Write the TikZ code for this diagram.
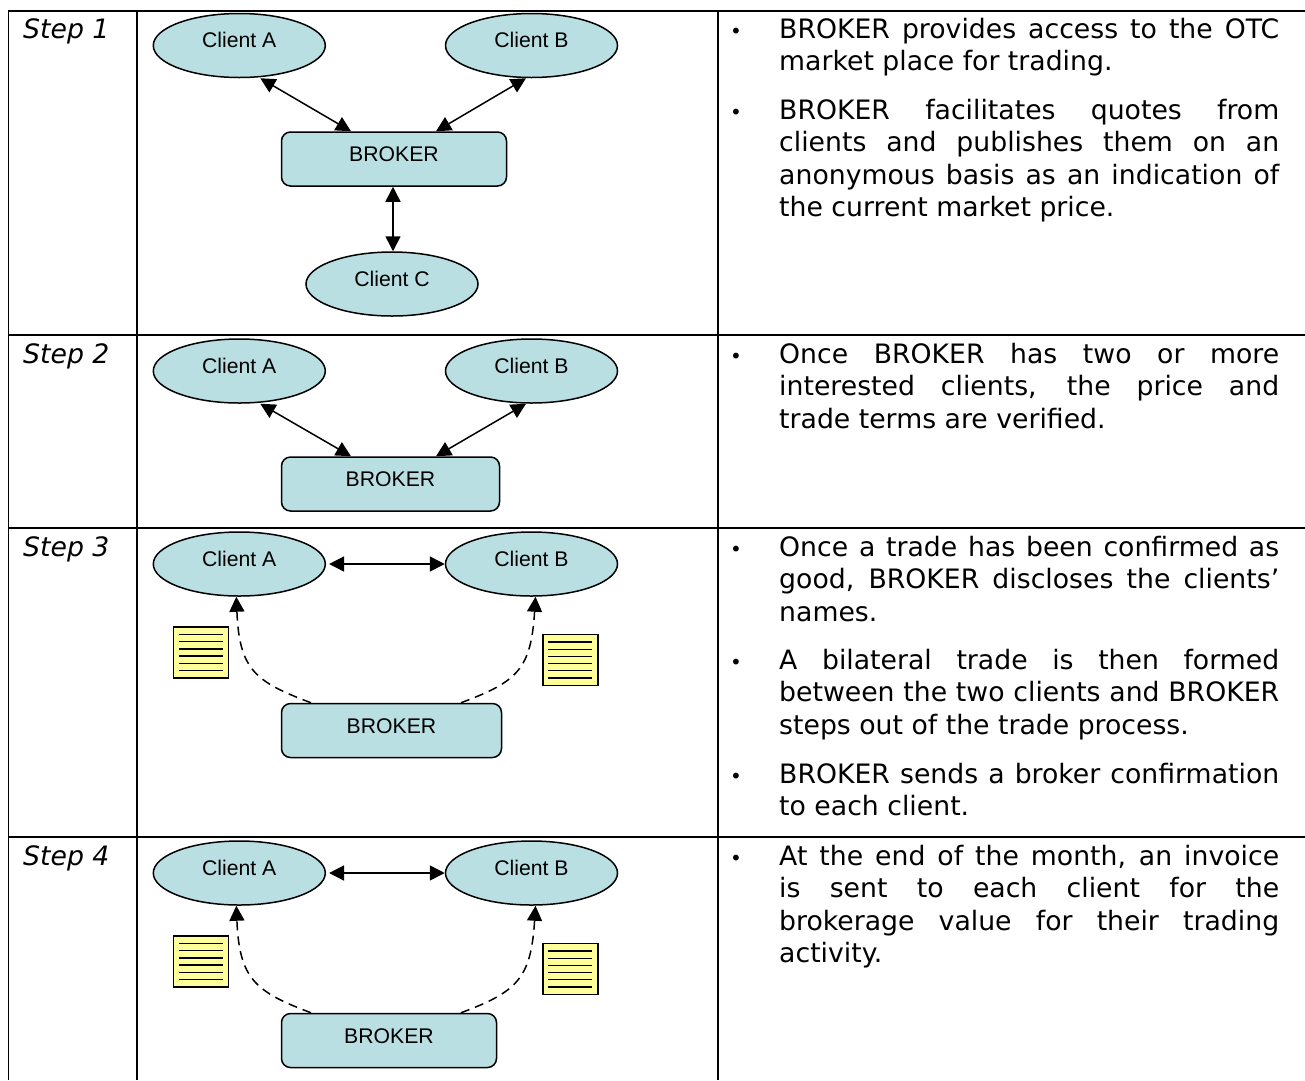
\documentclass[tikz,border=0pt]{standalone}
\usepackage{fontspec}
\setmainfont{DejaVu Sans}
\newfontfamily\labelfont{Liberation Sans}
\usetikzlibrary{arrows.meta,shapes.geometric}
\definecolor{partyblue}{HTML}{B9DFE3}
\definecolor{noteyellow}{HTML}{FFFF99}
\newcommand{\jline}[1]{\makebox[500pt][s]{#1}}
\tikzset{
    party/.style={ellipse, draw, line width=1.5pt, fill=partyblue, minimum width=172pt, minimum height=64pt, inner sep=0pt, font=\labelfont\fontsize{21.2}{24}\selectfont, text height=13pt, text depth=9pt},
    brokerbox/.style={rectangle, rounded corners=9pt, draw, line width=1.5pt, fill=partyblue, minimum height=54pt, inner sep=0pt, font=\labelfont\fontsize{21.2}{24}\selectfont, text height=13.5pt, text depth=8pt},
    notesheet/.style={rectangle, draw, line width=1.5pt, fill=noteyellow, minimum width=55pt, minimum height=51pt, inner sep=0pt,
        path picture={\foreach \k in {-18,-10.8,-3.6,3.6,10.8,18} \draw[line width=1.3pt] ([xshift=-22pt,yshift=\k pt]path picture bounding box.center) -- ++(44,0);}},
    link/.style={line width=1.5pt, {Triangle[length=15pt,width=15pt]}-{Triangle[length=15pt,width=15pt]}},
    dashlink/.style={line width=1.5pt, dash pattern=on 9pt off 6pt, -{Triangle[length=15pt,width=15pt]}},
    gridline/.style={line width=1.7pt},
    steplabel/.style={anchor=base west, inner sep=0pt, font=\fontsize{26.7}{32.4}\selectfont\itshape},
    bodytext/.style={anchor=north west, inner sep=0pt, yshift=22.68pt, align=left, font=\fontsize{26.7}{32.4}\selectfont},
    bulletmark/.style={anchor=base west, inner sep=0pt, font=\fontsize{20}{24}\selectfont},
}
\begin{document}
\begin{tikzpicture}[x=1pt, y=-1pt]
    \useasboundingbox (0,0) rectangle (1305,1080);

    % table rules
    \draw[gridline] (8.5,1080) -- (8.5,11) -- (1305,11);
    \draw[gridline] (137,11) -- (137,1080);
    \draw[gridline] (718,11) -- (718,1080);
    \draw[gridline] (8.5,335) -- (1305,335);
    \draw[gridline] (8.5,528) -- (1305,528);
    \draw[gridline] (8.5,837) -- (1305,837);

    \node[steplabel] (step1) at (23,38) {Step 1};
    \node[steplabel] (step2) at (23,363) {Step 2};
    \node[steplabel] (step3) at (23,556) {Step 3};
    \node[steplabel] (step4) at (23,865) {Step 4};

    % step 1
    \node[party] (clienta1) at (239.3,45.5) {Client A};
    \node[party] (clientb1) at (531.5,45.5) {Client B};
    \node[brokerbox, minimum width=225pt] (broker1) at (394,159) {BROKER};
    \node[party] (clientc1) at (392,284) {Client C};
    \draw[link] ([xshift=21pt]clienta1.south) -- ([xshift=-43pt]broker1.north);
    \draw[link] ([xshift=-5.5pt]clientb1.south) -- ([xshift=42pt]broker1.north);
    \draw[link] ([xshift=-1pt]broker1.south) -- ([xshift=1pt]clientc1.north);

    % step 2
    \node[party] (clienta2) at (239.3,371) {Client A};
    \node[party] (clientb2) at (531.5,371) {Client B};
    \node[brokerbox, minimum width=218pt] (broker2) at (390.5,484) {BROKER};
    \draw[link] ([xshift=21pt]clienta2.south) -- ([xshift=-39.5pt]broker2.north);
    \draw[link] ([xshift=-5.5pt]clientb2.south) -- ([xshift=45.5pt]broker2.north);

    % step 3
    \node[party] (clienta3) at (239.3,564) {Client A};
    \node[party] (clientb3) at (531.5,564) {Client B};
    \node[brokerbox, minimum width=220pt] (broker3) at (391.5,730.5) {BROKER};
    \node[notesheet] (notea3) at (201.2,652.5) {};
    \node[notesheet] (noteb3) at (570.3,660) {};
    \draw[link] ([xshift=3pt]clienta3.east) -- (clientb3.west);
    \draw[dashlink] ([xshift=-80.5pt]broker3.north) .. controls +(-56,-21) and +(3,73) .. ([xshift=-3pt]clienta3.south);
    \draw[dashlink] ([xshift=69.5pt]broker3.north) .. controls +(56,-21) and +(-4.5,73) .. ([xshift=4pt]clientb3.south);

    % step 4
    \node[party] (clienta4) at (239.3,873) {Client A};
    \node[party] (clientb4) at (531.5,873) {Client B};
    \node[brokerbox, minimum width=215pt] (broker4) at (389,1040.5) {BROKER};
    \node[notesheet] (notea4) at (201.2,961.5) {};
    \node[notesheet] (noteb4) at (570.3,969) {};
    \draw[link] ([xshift=3pt]clienta4.east) -- (clientb4.west);
    \draw[dashlink] ([xshift=-78pt]broker4.north) .. controls +(-56,-21) and +(3,73) .. ([xshift=-3pt]clienta4.south);
    \draw[dashlink] ([xshift=72pt]broker4.north) .. controls +(56,-21) and +(-4.5,73) .. ([xshift=4pt]clientb4.south);

    % right column
    \node[bulletmark] (mark1) at (730,38) {•};
    \node[bodytext] (text1) at (779,38) {\strut\jline{BROKER provides access to the OTC}\\market place for trading.};
    \node[bulletmark] (mark2) at (730,119) {•};
    \node[bodytext] (text2) at (779,119) {\strut\jline{BROKER facilitates quotes from}\\\jline{clients and publishes them on an}\\\jline{anonymous basis as an indication of}\\the current market price.};
    \node[bulletmark] (mark3) at (730,363) {•};
    \node[bodytext] (text3) at (779,363) {\strut\jline{Once BROKER has two or more}\\\jline{interested clients, the price and}\\trade terms are verified.};
    \node[bulletmark] (mark4) at (730,556) {•};
    \node[bodytext] (text4) at (779,556) {\strut\jline{Once a trade has been confirmed as}\\\jline{good, BROKER discloses the clients’}\\names.};
    \node[bulletmark] (mark5) at (730,669) {•};
    \node[bodytext] (text5) at (779,669) {\strut\jline{A bilateral trade is then formed}\\\jline{between the two clients and BROKER}\\steps out of the trade process.};
    \node[bulletmark] (mark6) at (730,783) {•};
    \node[bodytext] (text6) at (779,783) {\strut\jline{BROKER sends a broker confirmation}\\to each client.};
    \node[bulletmark] (mark7) at (730,865) {•};
    \node[bodytext] (text7) at (779,865) {\strut\jline{At the end of the month, an invoice}\\\jline{is sent to each client for the}\\\jline{brokerage value for their trading}\\activity.};
\end{tikzpicture}
\end{document}
